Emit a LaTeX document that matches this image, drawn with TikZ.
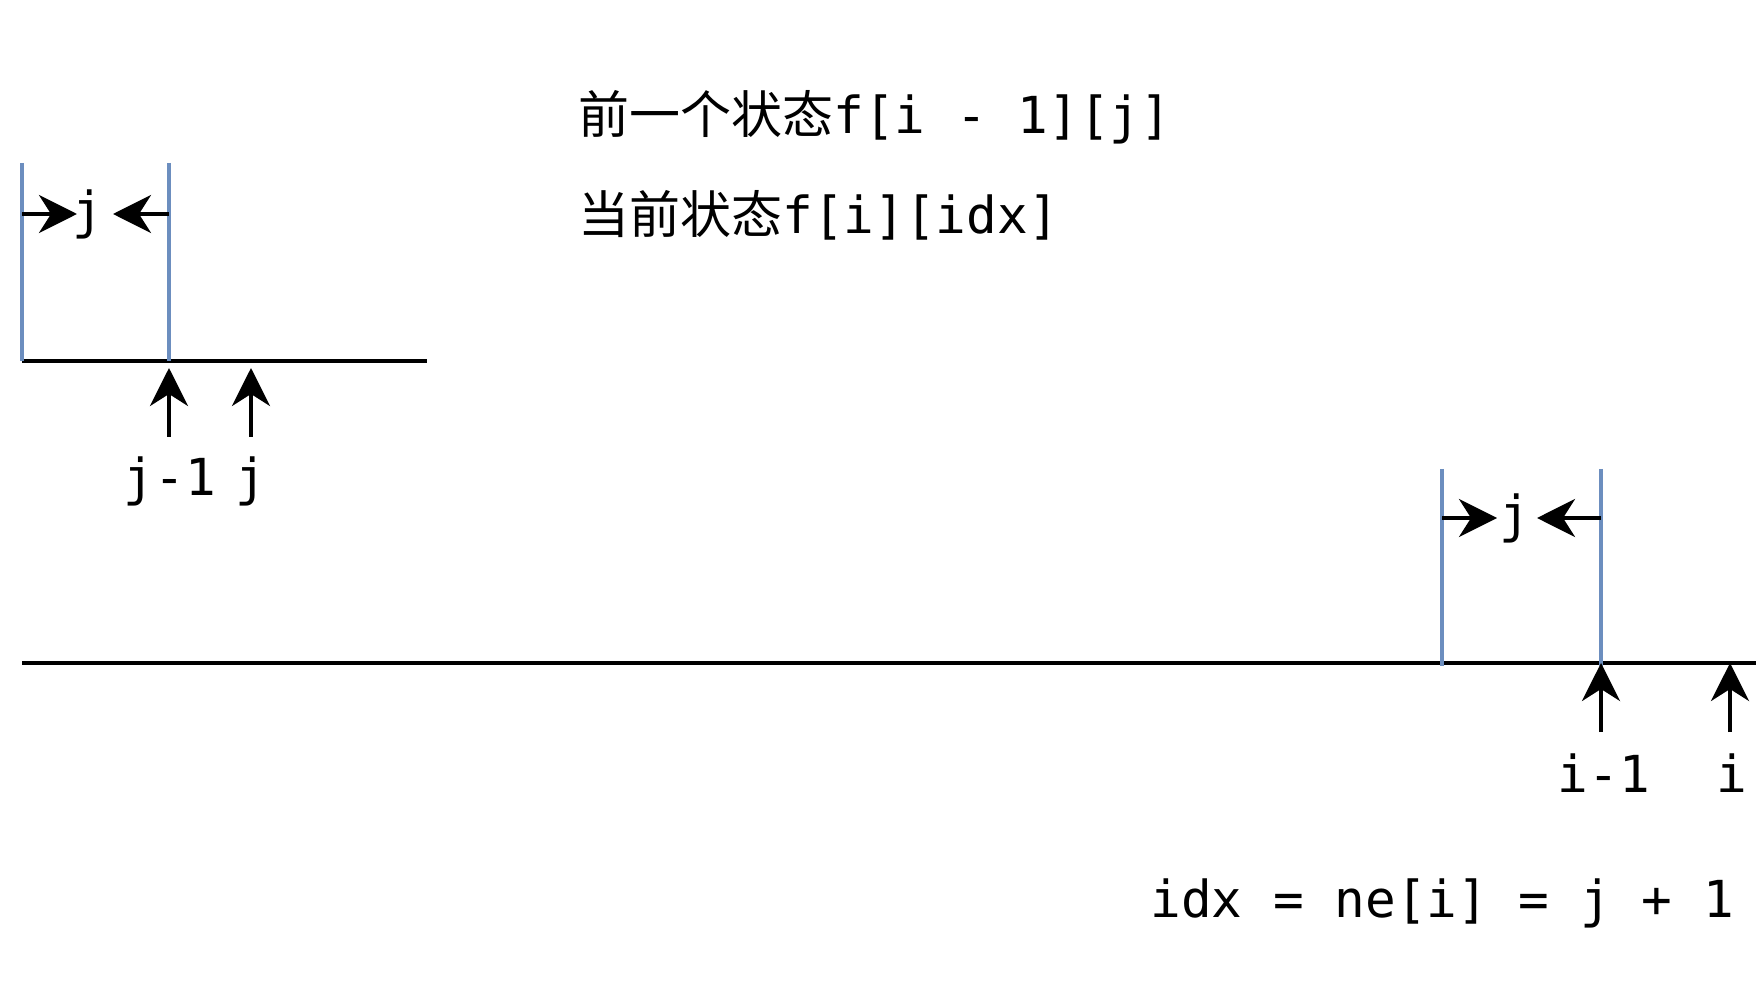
\documentclass[tikz,border=0pt]{standalone}
\usepackage{fontspec}
\setmonofont{DejaVu Sans Mono}
\newfontfamily\cjk{Noto Sans CJK SC}
\usetikzlibrary{arrows.meta}
\definecolor{wallBlue}{HTML}{6C8EBF}

\begin{document}
\begin{tikzpicture}[x=0.5pt,y=-0.5pt]
			\tikzstyle{txt} = [inner sep=0pt, font=\fontsize{25.5}{30}\selectfont\ttfamily]
			\tikzstyle{wall} = [draw, wallBlue, line width=1.8pt]
			\tikzstyle{axis} = [draw, line width=2pt]
			\tikzstyle{line} = [draw,-{Stealth[length=19pt,width=19pt,inset=6pt]},line width=2pt]

			\useasboundingbox (0,0) rectangle (1756,994);

			\node(PrevState)[txt, anchor=base west] at (578,134) {{\cjk 前一个状态}f[i - 1][j]};
			\node(CurState)[txt, anchor=base west] at (578,234) {{\cjk 当前状态}f[i][idx]};

			% previous row
			\coordinate(PrevStart) at (22,361);
			\coordinate(PrevEnd) at (427,361);
			\coordinate(PrevWallA) at (22,163);
			\coordinate(PrevWallB) at (169,163);
			\path[axis] (PrevStart) -- (PrevEnd);
			\path[wall] (PrevWallA) -- (PrevWallA |- PrevStart);
			\path[wall] (PrevWallB) -- (PrevWallB |- PrevStart);
			\node(PrevJ)[txt] at (88,214) {j};
			\path[line] (PrevWallA |- PrevJ) -- (77,214);
			\path[line] (PrevWallB |- PrevJ) -- (113,214);
			\node(PrevJMinusOne)[txt, anchor=base] at (170,495) {j-1};
			\node(PrevJLabel)[txt, anchor=base] at (251,495) {j};
			\path[line] (169,437) -- (169,368);
			\path[line] (251,437) -- (251,368);

			% current row
			\coordinate(CurStart) at (22,663);
			\coordinate(CurEnd) at (1756,663);
			\coordinate(CurWallA) at (1442,469);
			\coordinate(CurWallB) at (1601,469);
			\path[axis] (CurStart) -- (CurEnd);
			\path[wall] (CurWallA) -- (1442,666);
			\path[wall] (CurWallB) -- (1601,666);
			\node(CurJ)[txt] at (1515,518) {j};
			\path[line] (CurWallA |- CurJ) -- (1497,518);
			\path[line] (CurWallB |- CurJ) -- (1537,518);
			\node(CurIMinusOne)[txt, anchor=base] at (1604,792) {i-1};
			\node(CurI)[txt, anchor=base] at (1732,792) {i};
			\path[line] (1601,732) -- (CurWallB |- CurStart);
			\path[line] (1730,732) -- (1730,663);

			\node(IdxEq)[txt, anchor=base west] at (1150,917) {idx = ne[i] = j + 1};

		\end{tikzpicture}
\end{document}
